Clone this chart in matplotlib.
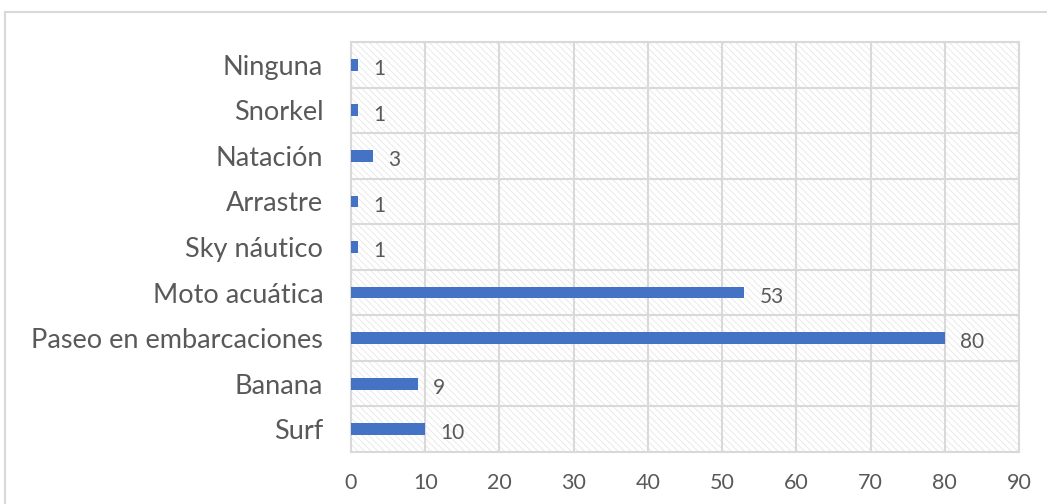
import matplotlib.pyplot as plt
import matplotlib.patches as mpatches
from matplotlib.lines import Line2D
import numpy as np

categories = ['Surf', 'Banana', 'Paseo en embarcaciones', 'Moto acuática',
              'Sky náutico', 'Arrastre', 'Natación', 'Snorkel', 'Ninguna']
values = [10, 9, 80, 53, 1, 1, 3, 1, 1]
x_ticks = [0, 10, 20, 30, 40, 50, 60, 70, 80, 90]

bar_color = '#4472C4'
grid_color = '#d9d9d9'
text_color = '#595959'

plt.rcParams['font.family'] = ['Lato', 'DejaVu Sans']
plt.rcParams['hatch.color'] = '#e2e2e2'
plt.rcParams['hatch.linewidth'] = 0.5

fig = plt.figure(figsize=(10.47, 5.04), dpi=100)

# outer chart border (left and top visible)
fig.add_artist(Line2D([5 / 1047, 5 / 1047], [0, 1 - 12 / 504], color=grid_color, lw=1.5))
fig.add_artist(Line2D([5 / 1047, 1], [1 - 12 / 504, 1 - 12 / 504], color=grid_color, lw=1.5))

ax = fig.add_axes([351 / 1047, 52 / 504, 668 / 1047, 410 / 504])
y = np.arange(len(categories))

# hatched plot background
ax.add_patch(mpatches.Rectangle((0, 0), 1, 1, transform=ax.transAxes,
                                facecolor='white', edgecolor='#e2e2e2',
                                hatch='\\\\\\\\\\', lw=0, zorder=0))

ax.barh(y, values, height=0.26, color=bar_color, zorder=3)
for yi, v in zip(y, values):
    ax.annotate(str(v), (v, yi), xytext=(11, -3), textcoords='offset points',
                va='center', ha='left', fontsize=15, color=text_color)

ax.set_xlim(0, 90)
ax.set_ylim(-0.5, len(categories) - 0.5)
ax.set_xticks(x_ticks)
ax.set_yticks(y)
ax.set_yticklabels(categories)
ax.set_yticks(np.arange(-0.5, len(categories)), minor=True)
ax.tick_params(axis='both', which='both', length=0, colors=text_color)
ax.tick_params(axis='y', labelsize=19.5, pad=20)
ax.tick_params(axis='x', labelsize=15.5, pad=15)
ax.grid(True, axis='x', which='major', color=grid_color, lw=1.5, zorder=1)
ax.grid(True, axis='y', which='minor', color=grid_color, lw=1.5, zorder=1)
ax.grid(False, axis='y', which='major')
ax.set_axisbelow(True)
for s in ax.spines.values():
    s.set_color(grid_color)
    s.set_linewidth(1.5)

fig.savefig('out.png', dpi=100)
